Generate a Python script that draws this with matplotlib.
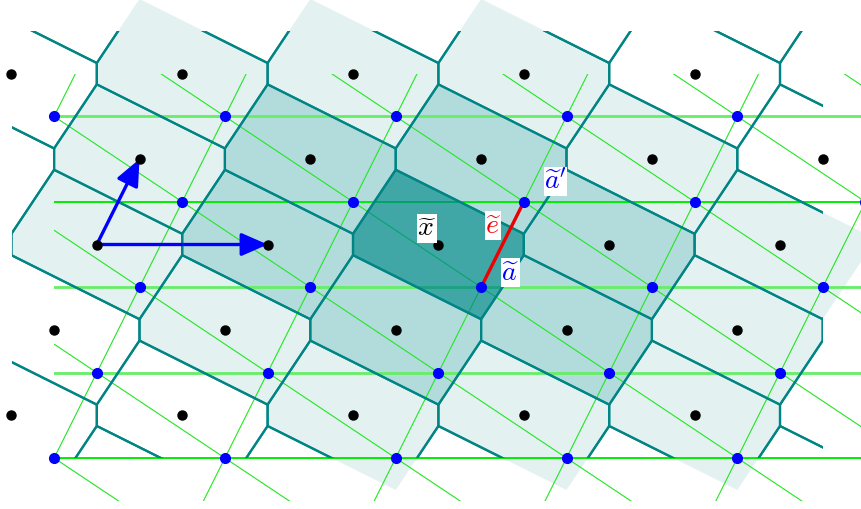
import numpy as np
import matplotlib.pyplot as plt
from matplotlib.patches import Polygon, Rectangle

plt.rcParams['mathtext.fontset'] = 'cm'

# lattice (data units)
u = np.array([2.0, 0.0])
v = np.array([0.5, 1.0])

# black lattice points, one list per row
black_rows_y = [2, 1, 0, -1, -2]
black_x = [[-1, 1, 3, 5, 7],
           [0.5, 2.5, 4.5, 6.5, 8.5],
           [0, 2, 4, 6, 8],
           [-0.5, 1.5, 3.5, 5.5, 7.5],
           [-1, 1, 3, 5, 7]]

# blue (shifted) lattice points
blue_rows_y = [1.5, 0.5, -0.5, -1.5, -2.5]
blue_x = [[-0.5, 1.5, 3.5, 5.5, 7.5],
          [1, 3, 5, 7, 9],
          [0.5, 2.5, 4.5, 6.5, 8.5],
          [0, 2, 4, 6, 8],
          [-0.5, 1.5, 3.5, 5.5, 7.5]]

# voronoi cell of the black lattice, relative to its centre
cell = np.array([(-0.5, 0.875), (1, 0.125), (1, -0.125),
                 (0.5, -0.875), (-1, -0.125), (-1, 0.125)])

dark_cells = [(4, 0)]
medium_cells = [(2, 0), (6, 0), (2.5, 1), (4.5, 1), (3.5, -1), (5.5, -1)]
light_cells = [(1, 2), (3, 2), (5, 2), (0.5, 1), (6.5, 1), (0, 0), (8, 0),
               (1.5, -1), (7.5, -1), (3, -2), (5, -2), (7, -2)]

edge_a = (4.5, -0.5)
edge_a2 = (5.0, 0.5)

# horizontal green lines: lighter/thicker ones vs bright ones
light_h = [1.5, -0.5, -1.5]
bright_h = [0.5, -2.5]

fig = plt.figure(figsize=(8.62, 5.09), dpi=100)
ax = fig.add_axes([0, 0, 1, 1])
ax.set_xlim(-1.1335, 8.960)
ax.set_ylim(-3.097, 2.863)
ax.set_aspect('equal')
ax.axis('off')

# fills
for c in light_cells:
    ax.add_patch(Polygon(cell + c, closed=True, fc='#e3f2f1', ec='none', zorder=1))
for c in medium_cells:
    ax.add_patch(Polygon(cell + c, closed=True, fc='#b2dcdc', ec='none', zorder=1))
for c in dark_cells:
    ax.add_patch(Polygon(cell + c, closed=True, fc='#008a88', ec='none',
                         alpha=0.75, zorder=3))

# green triangulation of the blue lattice
gclip = Rectangle((-0.5, -3.0), 20, 5.0, transform=ax.transData)
for y in light_h:
    ln, = ax.plot([-0.5, 12], [y, y], color='#66ee66', lw=2.0, zorder=2)
    ln.set_clip_path(gclip)
for y in bright_h:
    ln, = ax.plot([-0.5, 12], [y, y], color='#00ee00', lw=1.4, zorder=2)
    ln.set_clip_path(gclip)
d2 = u - v
for k in range(-6, 10):
    p = np.array([0.5 + 2 * k, -0.5])
    for d in (v, d2):
        seg = np.array([p - 8 * d, p + 8 * d])
        ln, = ax.plot(seg[:, 0], seg[:, 1], color='#22e622', lw=0.8, zorder=2)
        ln.set_clip_path(gclip)

# voronoi edges, clipped
vclip = Rectangle((-0.99, -2.5), 9.49, 5.0, transform=ax.transData)
for i in range(-4, 8):
    for j in range(-3, 4):
        c = i * u + j * v
        pg = Polygon(cell + c, closed=True, fc='none', ec='#008484', lw=1.6,
                     zorder=4, joinstyle='miter')
        ax.add_patch(pg)
        pg.set_clip_path(vclip)

# red edge
ax.plot([edge_a[0], edge_a2[0]], [edge_a[1], edge_a2[1]], color='#ee0000',
        lw=2.4, zorder=5, solid_capstyle='butt')

# basis arrows
for tip in (u, v):
    ax.annotate('', xy=tip, xytext=(0, 0), zorder=5,
                arrowprops=dict(arrowstyle='-|>,head_length=0.8,head_width=0.35',
                                mutation_scale=20, color='#0000ff', lw=2.4,
                                shrinkA=0, shrinkB=0))

# points
for y, xs in zip(black_rows_y, black_x):
    ax.plot(xs, [y] * len(xs), 'o', color='black', ms=6.5, zorder=6)
for y, xs in zip(blue_rows_y, blue_x):
    ax.plot(xs, [y] * len(xs), 'o', color='#0000ff', ms=7, zorder=6)

box = dict(fc='white', ec='none', pad=0.1)
ax.text(3.87, 0.19, r'$\widetilde{x}$', color='black', fontsize=20,
        ha='center', va='center', bbox=box, zorder=7)
ax.text(4.64, 0.22, r'$\widetilde{e}$', color='#ee0000', fontsize=20,
        ha='center', va='center', bbox=box, zorder=7)
ax.text(5.37, 0.74, r"$\widetilde{a}'$", color='#0000ff', fontsize=20,
        ha='center', va='center', bbox=box, zorder=7)
ax.text(4.84, -0.33, r'$\widetilde{a}$', color='#0000ff', fontsize=20,
        ha='center', va='center', bbox=box, zorder=7)

fig.savefig('out.png', dpi=100)
